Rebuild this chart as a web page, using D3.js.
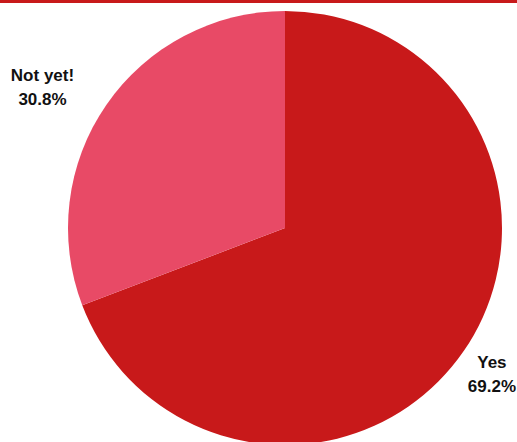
<!DOCTYPE html>
<html>
<head>
<meta charset="utf-8">
<script src="https://cdn.jsdelivr.net/npm/d3@7"></script>
<style>
  body { margin: 0; background: #fff; }
  svg { display: block; }
  .label text { font-family: "Liberation Sans", Arial, sans-serif; font-weight: bold; font-size: 17px; fill: #111; }
</style>
</head>
<body>
<div id="chart"></div>
<script>
var categories = ["Yes", "Not yet!"];
var values = [69.2, 30.8];
var colors = ["#c8191a", "#e84a66"];

var width = 517,
  height = 442,
  cx = 285,
  cy = 228,
  radius = 217;

var svg = d3.select("#chart")
  .append("svg")
  .attr("width", width)
  .attr("height", height);

// header rule
svg.append("rect")
  .attr("x", 0)
  .attr("y", 0)
  .attr("width", width)
  .attr("height", 3)
  .attr("fill", colors[0]);

var data = categories.map((c, i) => ({name: c, value: values[i], color: colors[i]}));

var pie = d3.pie().sort(null).value(d => d.value);
var arc = d3.arc().innerRadius(0).outerRadius(radius);
var labelArc = d3.arc().innerRadius(radius * 1.18).outerRadius(radius * 1.18);

var g = svg.append("g")
  .attr("transform", "translate(" + cx + "," + cy + ")");

var arcs = pie(data);

g.selectAll("path.slice")
  .data(arcs)
  .enter()
  .append("path")
  .attr("class", "slice")
  .attr("d", arc)
  .attr("fill", d => d.data.color);

var lineH = 24;

var label = svg.selectAll("g.label")
  .data(arcs)
  .enter()
  .append("g")
  .attr("class", "label");

label.each(function(d){
  var el = d3.select(this);
  var lines = [d.data.name, d3.format(".1f")(d.data.value) + "%"];
  var t = el.selectAll("text")
    .data(lines)
    .enter()
    .append("text")
    .attr("text-anchor", "middle")
    .attr("y", (l, i) => (i - 0.5) * lineH)
    .attr("dy", "0.35em")
    .text(l => l);

  var w = d3.max(t.nodes(), n => n.getComputedTextLength());
  var p = labelArc.centroid(d);
  var right = p[0] > 0;
  var x = cx + p[0] + (right ? w / 2 : -w / 2);
  x = Math.max(w / 2 + 2, Math.min(width - w / 2 - 1, x));
  var y = cy + p[1] + (right ? 1 : 4);
  el.attr("transform", "translate(" + x + "," + y + ")");
});
</script>
</body>
</html>
